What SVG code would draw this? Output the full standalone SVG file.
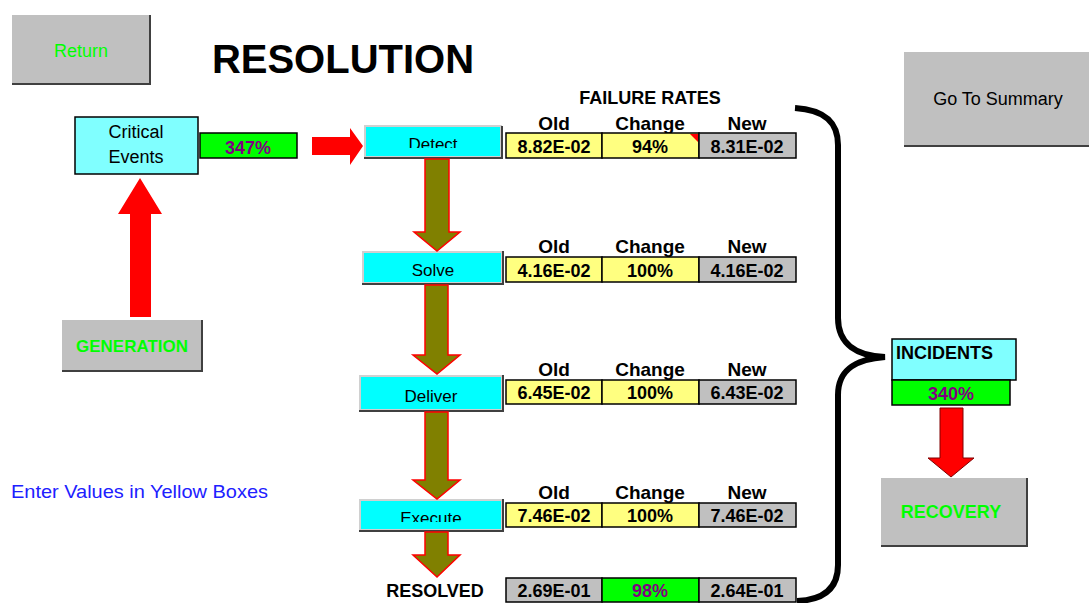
<svg xmlns="http://www.w3.org/2000/svg" width="1089" height="603" viewBox="0 0 1089 603">
<defs>
<style>
.t{font-family:"Liberation Sans",Arial,sans-serif}
.b{font-weight:bold}
.btn{fill:#C0C0C0}
.edge{fill:none;stroke:#404040;stroke-width:2}
.cy{fill:#00FFFF;stroke:#D0D0D0;stroke-width:2}
.lc{fill:#80FFFF;stroke:#000;stroke-width:1.5}
.yel{fill:#FFFF80;stroke:#000;stroke-width:1.5}
.gry{fill:#C0C0C0;stroke:#000;stroke-width:1.5}
.grn{fill:#00FF00;stroke:#000;stroke-width:1.5}
.red{fill:#FF0000}
.olive{fill:#808000;stroke:#FF0000;stroke-width:1.5}
.hd{font-family:"Liberation Sans",Arial,sans-serif;font-weight:bold;font-size:19px;text-anchor:middle;fill:#000}
.v{font-family:"Liberation Sans",Arial,sans-serif;font-weight:bold;font-size:18px;text-anchor:middle;fill:#000}
.pu{fill:#800080}
.bt{font-family:"Liberation Sans",Arial,sans-serif;font-size:17px;text-anchor:middle;fill:#000}
</style>
<clipPath id="cDetect"><rect x="365" y="127" width="136" height="21"/></clipPath>
<clipPath id="cExecute"><rect x="360" y="500" width="142" height="22"/></clipPath>
</defs>

<g id="return">
<rect class="btn" x="12" y="15" width="138" height="69"/>
<polyline class="edge" points="12,84 150,84 150,15"/>
<text class="t" x="81" y="57" font-size="18" fill="#00FF00" text-anchor="middle">Return</text>
</g>

<text id="title" class="t b" x="343" y="73" font-size="40" text-anchor="middle" fill="#000">RESOLUTION</text>

<g id="summary">
<rect class="btn" x="904" y="52" width="185" height="94"/>
<line class="edge" x1="904" y1="146" x2="1089" y2="146"/>
<text class="t" x="998" y="105" font-size="18" fill="#000" text-anchor="middle">Go To Summary</text>
</g>

<g id="critical">
<rect class="lc" x="75" y="117" width="123" height="57"/>
<text class="t" x="136" y="138" font-size="18" text-anchor="middle" fill="#000">Critical</text>
<text class="t" x="136" y="163" font-size="18" text-anchor="middle" fill="#000">Events</text>
<rect class="grn" x="200" y="133" width="97" height="25"/>
<text class="v pu" x="248" y="154">347%</text>
</g>

<g id="generation">
<rect class="btn" x="62" y="320" width="140" height="51"/>
<polyline class="edge" points="62,371 202,371 202,320"/>
<text class="t b" x="132" y="352" font-size="17" fill="#00FF00" text-anchor="middle">GENERATION</text>
</g>

<text id="note" class="t" x="11" y="498" font-size="18.5" fill="#2020FF" textLength="257" lengthAdjust="spacingAndGlyphs">Enter Values in Yellow Boxes</text>

<text id="frh" class="t b" x="650" y="104" font-size="18" text-anchor="middle" fill="#000">FAILURE RATES</text>

<g id="detect">
<rect class="cy" x="365" y="126" width="136" height="31"/>
<polyline class="edge" points="364,158 502,158 502,126"/>
<text class="bt" x="433" y="150" clip-path="url(#cDetect)">Detect</text>
</g>
<g id="row1">
<text class="hd" x="554" y="130">Old</text><text class="hd" x="650" y="130">Change</text><text class="hd" x="747" y="130">New</text>
<rect class="yel" x="506" y="133" width="96" height="25"/><rect class="yel" x="602" y="133" width="97" height="25"/><rect class="gry" x="699" y="133" width="97" height="25"/>
<polygon class="red" points="690,134 698,134 698,142"/>
<text class="v" x="554" y="153">8.82E-02</text><text class="v" x="650" y="153">94%</text><text class="v" x="747" y="153">8.31E-02</text>
</g>

<g id="solve">
<rect class="cy" x="363" y="252" width="139" height="31"/>
<polyline class="edge" points="362,284 503,284 503,251"/>
<text class="bt" x="433" y="276">Solve</text>
</g>
<g id="row2">
<text class="hd" x="554" y="253">Old</text><text class="hd" x="650" y="253">Change</text><text class="hd" x="747" y="253">New</text>
<rect class="yel" x="506" y="257" width="96" height="25"/><rect class="yel" x="602" y="257" width="97" height="25"/><rect class="gry" x="699" y="257" width="97" height="25"/>
<text class="v" x="554" y="277">4.16E-02</text><text class="v" x="650" y="277">100%</text><text class="v" x="747" y="277">4.16E-02</text>
</g>

<g id="deliver">
<rect class="cy" x="360" y="376" width="142" height="34"/>
<polyline class="edge" points="359,411 503,411 503,375"/>
<text class="bt" x="431" y="402">Deliver</text>
</g>
<g id="row3">
<text class="hd" x="554" y="376">Old</text><text class="hd" x="650" y="376">Change</text><text class="hd" x="747" y="376">New</text>
<rect class="yel" x="506" y="380" width="96" height="24"/><rect class="yel" x="602" y="380" width="97" height="24"/><rect class="gry" x="699" y="380" width="97" height="24"/>
<text class="v" x="554" y="399">6.45E-02</text><text class="v" x="650" y="399">100%</text><text class="v" x="747" y="399">6.43E-02</text>
</g>

<g id="execute">
<rect class="cy" x="360" y="500" width="142" height="30"/>
<polyline class="edge" points="359,531 503,531 503,499"/>
<text class="bt" x="431" y="524" clip-path="url(#cExecute)">Execute</text>
</g>
<g id="row4">
<text class="hd" x="554" y="499">Old</text><text class="hd" x="650" y="499">Change</text><text class="hd" x="747" y="499">New</text>
<rect class="yel" x="506" y="503" width="96" height="24"/><rect class="yel" x="602" y="503" width="97" height="24"/><rect class="gry" x="699" y="503" width="97" height="24"/>
<text class="v" x="554" y="522">7.46E-02</text><text class="v" x="650" y="522">100%</text><text class="v" x="747" y="522">7.46E-02</text>
</g>

<g id="resolved">
<text class="t b" x="435" y="597" font-size="18" text-anchor="middle" fill="#000">RESOLVED</text>
<rect class="gry" x="506" y="578" width="96" height="24"/><rect class="grn" x="602" y="578" width="97" height="24"/><rect class="gry" x="699" y="578" width="97" height="24"/>
<text class="v" x="554" y="597">2.69E-01</text><text class="v pu" x="650" y="597">98%</text><text class="v" x="747" y="597">2.64E-01</text>
</g>

<g id="incidents">
<rect class="lc" x="892" y="339" width="124" height="41"/>
<text class="t b" x="896" y="359" font-size="18" fill="#000">INCIDENTS</text>
<rect class="grn" x="892" y="380" width="118" height="25"/>
<text class="v pu" x="951" y="400">340%</text>
</g>

<g id="recovery">
<rect class="btn" x="881" y="478" width="146" height="68"/>
<polyline class="edge" points="881,546 1027,546 1027,478"/>
<text class="t b" x="951" y="518" font-size="18" fill="#00FF00" text-anchor="middle">RECOVERY</text>
</g>

<g id="connectors">
<polygon class="red" points="130,317 151,317 151,214 162,214 140,178 118,214 130,214"/>
<polygon class="red" points="312,137 350,137 350,128 363,146 350,165 350,155 312,155"/>
<polygon class="olive" points="425,159 449,159 449,232 460,232 437,251 414,232 425,232"/>
<polygon class="olive" points="425,285 448,285 448,355 460,355 437,374 413,355 425,355"/>
<polygon class="olive" points="425,412 448,412 448,480 460,480 437,499 413,480 425,480"/>
<polygon class="olive" points="425,532 448,532 448,555 460,555 437,577 413,555 425,555"/>
<polygon class="red" stroke="#800000" stroke-width="1" points="940,408 963,408 963,458 974,458 951,477 928,458 940,458"/>
<path d="M795,108 C825,110 838,122 838,145 L838,318 C838,345 858,356 885,357 C858,359 838,368 838,395 L838,565 C838,590 822,600 797,601" fill="none" stroke="#000" stroke-width="6"/>
</g>
</svg>
